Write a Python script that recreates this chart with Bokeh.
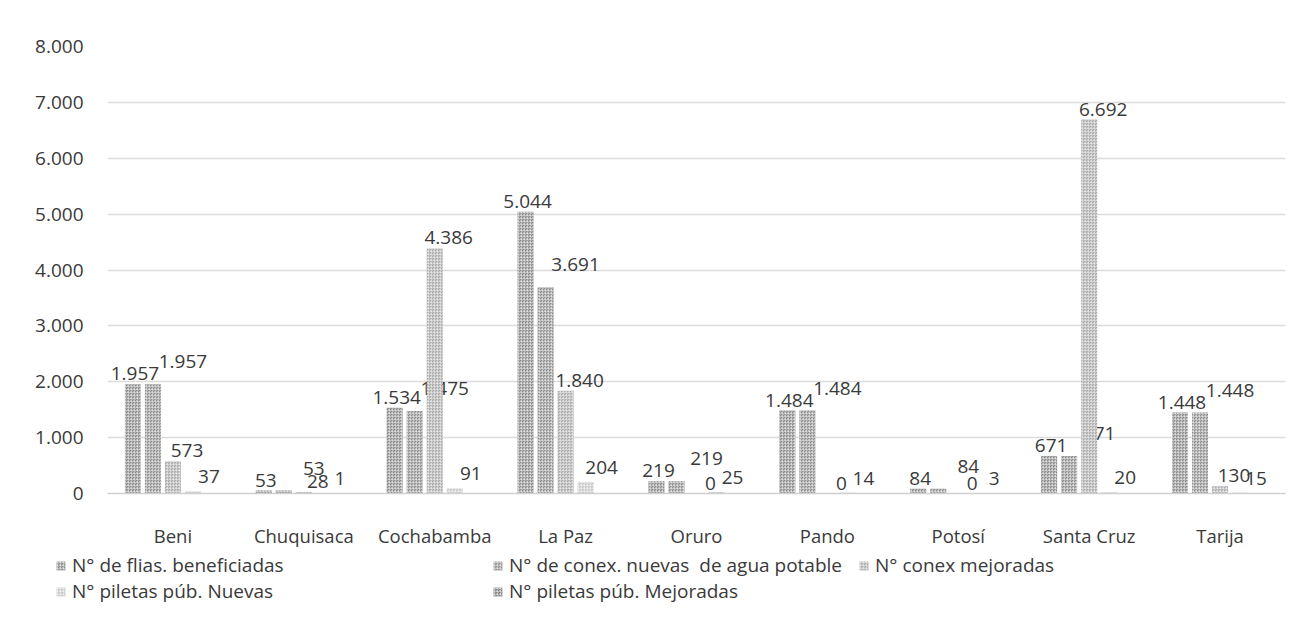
from bokeh.plotting import figure
from bokeh.layouts import column
from bokeh.models import (ColumnDataSource, FactorRange, FixedTicker, Legend,
                          LegendItem, Range1d)
from bokeh.transform import dodge
from bokeh.core.properties import value
from bokeh.embed import file_html
from bokeh.resources import INLINE

categories = ["Beni", "Chuquisaca", "Cochabamba", "La Paz", "Oruro",
              "Pando", "Potosí", "Santa Cruz", "Tarija"]
series_names = ["N° de flias. beneficiadas",
                "N° de conex. nuevas  de agua potable",
                "N° conex mejoradas",
                "N° piletas púb. Nuevas",
                "N° piletas púb. Mejoradas"]
flias = [1957, 53, 1534, 5044, 219, 1484, 84, 671, 1448]
conex_nuevas = [1957, 53, 1475, 3691, 219, 1484, 84, 671, 1448]
conex_mejoradas = [573, 28, 4386, 1840, 0, 0, 0, 6692, 130]
piletas_nuevas = [37, 1, 91, 204, 25, 14, 3, 20, 15]
piletas_mejoradas = [0, 0, 0, 0, 0, 0, 0, 0, 0]
y_ticks = [0, 1000, 2000, 3000, 4000, 5000, 6000, 7000, 8000]

series_values = [flias, conex_nuevas, conex_mejoradas, piletas_nuevas, piletas_mejoradas]
show_labels = [True, True, True, True, False]
colors = ["#8a8a8a", "#8e8e8e", "#a9a9a9", "#c6c6c6", "#7e7e7e"]
dodges = [-0.306, -0.153, 0.0, 0.153, 0.306]
label_dx = [2, 30, 14, 16, 0]
label_dy = [-4, -16, -4, -8, 0]

FONT = "Open Sans"
TXT = "#3a3a3a"
HATCH = dict(hatch_pattern="criss_cross", hatch_color="#ffffff",
             hatch_alpha=0.35, hatch_scale=3, hatch_weight=1)


def fmt(v):
    return f"{v:,}".replace(",", ".")


p = figure(x_range=FactorRange(*categories), y_range=(0, 8000),
           width=1302, height=550, output_backend="svg", toolbar_location=None,
           min_border_left=107, min_border_right=17, min_border_top=46,
           min_border_bottom=50)
p.frame_align = False
p.outline_line_color = None
p.xgrid.grid_line_color = None
p.ygrid.grid_line_color = "#dcdcdc"
p.ygrid.grid_line_width = 1.5

p.yaxis.ticker = FixedTicker(ticks=y_ticks)
p.yaxis.major_label_overrides = {t: fmt(t) for t in y_ticks}
p.yaxis.axis_line_color = None
p.yaxis.major_tick_line_color = None
p.yaxis.minor_tick_line_color = None
p.yaxis.major_label_standoff = 18
p.yaxis.major_label_text_font = FONT
p.yaxis.major_label_text_font_size = "19px"
p.yaxis.major_label_text_color = TXT

p.xaxis.axis_line_color = "#d0d0d0"
p.xaxis.axis_line_width = 1.5
p.xaxis.major_tick_line_color = None
p.xaxis.minor_tick_line_color = None
p.xaxis.major_label_standoff = 23
p.xaxis.major_label_text_font = FONT
p.xaxis.major_label_text_font_size = "18.5px"
p.xaxis.major_label_text_color = TXT

for i, vals in enumerate(series_values):
    src = ColumnDataSource(dict(cat=categories, val=vals,
                                lab=[fmt(v) for v in vals]))
    p.vbar(x=dodge("cat", dodges[i], range=p.x_range), top="val", width=0.122,
           source=src, fill_color=colors[i], line_color=None, **HATCH)
    if show_labels[i]:
        p.text(x=dodge("cat", dodges[i], range=p.x_range), y="val", text="lab",
               source=src, text_font=value(FONT), text_font_size="19px",
               text_color=TXT, text_align="center", text_baseline="bottom",
               x_offset=label_dx[i], y_offset=label_dy[i])

# legend strip below the chart (swatch renderers sit outside the visible range)
lg = figure(width=1302, height=83, output_backend="svg", toolbar_location=None,
            x_range=Range1d(0, 1), y_range=Range1d(0, 1),
            min_border_left=0, min_border_right=0, min_border_top=0,
            min_border_bottom=0)
lg.frame_align = False
lg.axis.visible = False
lg.grid.visible = False
lg.outline_line_color = None
swatches = [lg.vbar(x=[-5], top=[-5], width=0.1, fill_color=c, line_color=None, **HATCH)
            for c in colors]

common = dict(orientation="vertical", padding=0, margin=0, spacing=0,
              glyph_width=11, glyph_height=11, label_standoff=6,
              border_line_color=None, background_fill_alpha=0,
              label_text_font=FONT, label_text_font_size="19px",
              label_text_color=TXT)
legend_pos = [(55, 55), (492, 55), (858, 55), (55, 29), (492, 29)]
for k, loc in enumerate(legend_pos):
    leg = Legend(items=[LegendItem(label=series_names[k], renderers=[swatches[k]])],
                 location=loc, **common)
    lg.add_layout(leg, "center")

layout = column(p, lg, spacing=0)
open("out.html", "w").write(file_html(layout, INLINE))
